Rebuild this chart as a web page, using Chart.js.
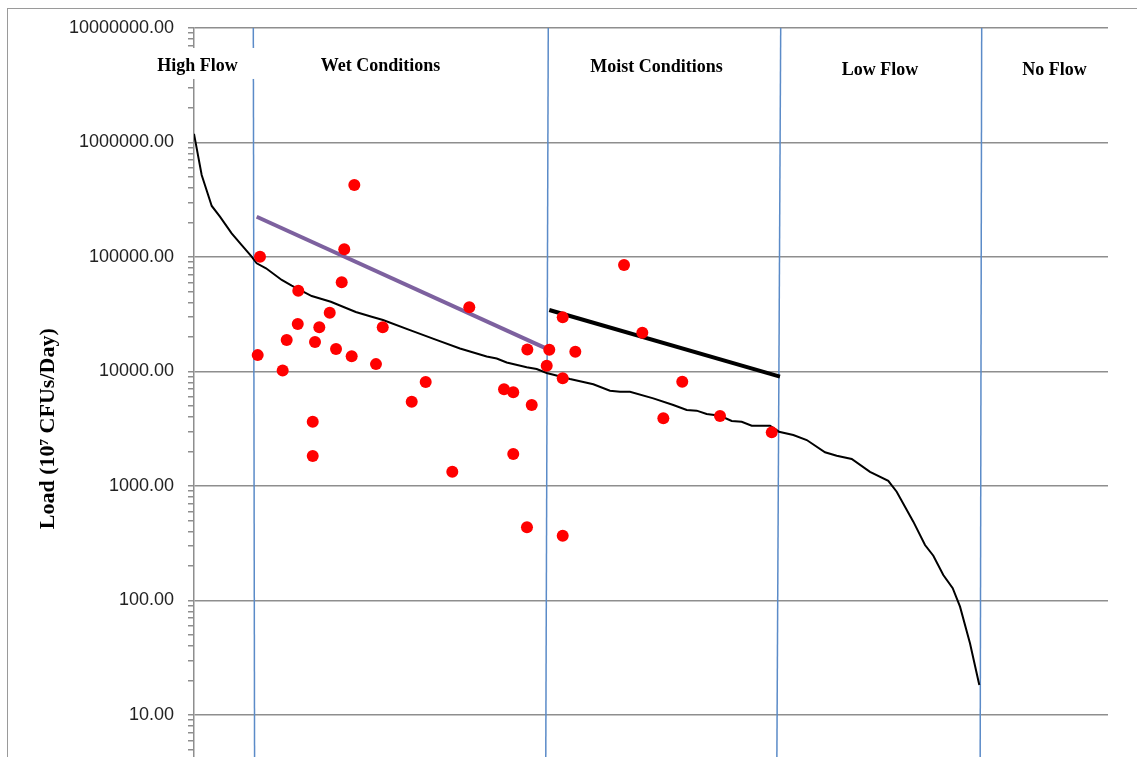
<!DOCTYPE html>
<html>
<head>
<meta charset="utf-8">
<script src="https://cdn.jsdelivr.net/npm/chart.js@4.4.1/dist/chart.umd.min.js"></script>
<style>
  html, body { margin: 0; padding: 0; background: #fff; overflow: hidden; }
  #frame { position: absolute; left: 7px; top: 8px; width: 1300px; height: 1000px;
           border-left: 1.5px solid #9a9a9a; border-top: 1.5px solid #9a9a9a; }
  #wrap { position: absolute; left: 0; top: 0; }
</style>
</head>
<body>
<div id="frame"></div>
<div id="wrap"><canvas id="c" width="1137" height="860"></canvas></div>
<script>
// Load duration curve: flow duration interval (%) and allowable load
const curvePct = [0, 0.84, 1.94, 2.84, 4.12, 5.22, 6.31, 6.86, 7.88, 9.60, 10.69, 12.88, 14.97, 17.70, 19.44, 20.68,
  23.63, 26.59, 29.10, 32.02, 33.12, 34.21, 36.40, 37.49, 38.59, 41.14, 43.69, 45.51, 46.61, 47.70, 50.25, 52.44,
  53.91, 55.00, 56.09, 57.55, 58.83, 59.92, 61.02, 63.02, 64.00, 65.57, 67.04, 69.04, 70.32, 71.96, 73.96, 75.96,
  76.88, 78.70, 79.98, 80.89, 81.98, 83.01, 83.81, 84.90, 85.92];
const curveLoad = [1190000, 520000, 279000, 225000, 161000, 127000, 100600, 88100, 79700, 63000, 56200, 45600, 40700,
  33100, 30100, 28200, 23000, 18800, 15900, 13500, 13000, 12000, 10900, 10500, 9700, 8600, 7730, 6800, 6660, 6660,
  5830, 5100, 4610, 4550, 4250, 4110, 3700, 3640, 3360, 3360, 2980, 2790, 2520, 1970, 1840, 1720, 1330, 1110, 892,
  488, 305, 246, 167, 128, 88.3, 42.3, 18.3];

// Observed loads from sampling events
const obsPct = [17.54, 16.44, 7.22, 16.16, 11.41, 14.85, 11.35, 13.71, 20.65, 10.14, 13.24, 6.97, 15.54, 17.25,
  19.91, 9.70, 25.35, 23.82, 12.99, 12.99, 30.12, 36.47, 38.87, 40.34, 41.72, 38.59, 40.34, 33.92, 34.93, 36.95,
  34.93, 28.26, 36.43, 40.34, 47.05, 49.05, 53.42, 51.35, 57.55, 63.21];
const obsLoad = [425600, 116800, 100600, 60100, 50800, 32600, 26000, 24300, 24300, 18800, 18100, 13900, 15700, 13600,
  11600, 10200, 8100, 5450, 3640, 1830, 36400, 15600, 15500, 29700, 14900, 11200, 8720, 6990, 6580, 5100,
  1900, 1330, 436, 368, 85100, 21800, 8150, 3900, 4090, 2940];

// Regression lines through the observed loads
const wetTrendPct = [6.86, 38.51];
const wetTrendLoad = [224900, 15940];
const moistTrendPct = [38.87, 64.11];
const moistTrendLoad = [34450, 9008];

// Flow zone boundaries (at the top and at the bottom of the axis)
const zoneTopPct = [6.49, 38.76, 64.19, 86.18];
const zoneBottomPct = [6.64, 38.46, 63.73, 86.0];
const zoneNames = ['High Flow', 'Wet Conditions', 'Moist Conditions', 'Low Flow', 'No Flow'];

// Decades of the load axis
const loadDecades = [1, 10, 100, 1000, 10000, 100000, 1000000, 10000000];

const pts = (xs, ys) => xs.map((x, i) => ({ x: x, y: ys[i] }));

const boundaryDatasets = zoneTopPct.map((t, i) => ({
  type: 'line',
  data: [{ x: t, y: loadDecades[loadDecades.length - 1] }, { x: zoneBottomPct[i], y: loadDecades[0] }],
  borderColor: '#5b8bc8',
  borderWidth: 1.5,
  pointRadius: 0,
  order: 4
}));

// Zone captions: centre (percent, load) and white box padding
const zoneLabelLayout = [
  { cx: 0.38, cy: 4.66e6, padL: 11, padR: 20 },
  { cx: 20.40, cy: 4.66e6, padL: 10, padR: 10 },
  { cx: 50.60, cy: 4.57e6, padL: 10, padR: 10 },
  { cx: 75.05, cy: 4.30e6, padL: 10, padR: 10 },
  { cx: 94.15, cy: 4.30e6, padL: 10, padR: 10 }
];

const zoneLabelPlugin = {
  id: 'zoneLabels',
  afterDraw(chart) {
    const { ctx, scales } = chart;
    ctx.save();
    ctx.font = 'bold 18px "Liberation Serif", "Times New Roman", serif';
    ctx.textAlign = 'center';
    ctx.textBaseline = 'middle';
    zoneNames.forEach((name, i) => {
      const L = zoneLabelLayout[i];
      const x = scales.x.getPixelForValue(L.cx);
      const y = scales.y.getPixelForValue(L.cy);
      const w = ctx.measureText(name).width;
      ctx.fillStyle = '#ffffff';
      ctx.fillRect(x - w / 2 - L.padL, y - 18, w + L.padL + L.padR, 31);
      ctx.fillStyle = '#000000';
      ctx.fillText(name, x, y);
    });
    ctx.restore();
  }
};

const isDecade = v => Math.abs(Math.log10(v) - Math.round(Math.log10(v))) < 1e-9;

new Chart(document.getElementById('c'), {
  type: 'line',
  data: {
    datasets: [
      {
        label: 'Observed',
        data: pts(obsPct, obsLoad),
        pointStyle: 'circle',
        pointRadius: 6,
        pointBackgroundColor: '#ff0000',
        pointBorderWidth: 0,
        pointBorderColor: '#ff0000',
        showLine: false,
        order: 0
      },
      {
        label: 'Wet trend',
        data: pts(wetTrendPct, wetTrendLoad),
        borderColor: '#7d619f',
        borderWidth: 4,
        pointRadius: 0,
        order: 1
      },
      {
        label: 'Moist trend',
        data: pts(moistTrendPct, moistTrendLoad),
        borderColor: '#000000',
        borderWidth: 4,
        pointRadius: 0,
        order: 1
      },
      {
        label: 'Load duration curve',
        data: pts(curvePct, curveLoad),
        borderColor: '#000000',
        borderWidth: 2,
        pointRadius: 0,
        tension: 0,
        order: 2
      },
      ...boundaryDatasets
    ]
  },
  options: {
    responsive: false,
    animation: false,
    layout: { padding: { left: 0, top: 28, right: 29, bottom: 30.5 } },
    plugins: { legend: { display: false }, tooltip: { enabled: false } },
    scales: {
      x: { type: 'linear', min: 0, max: 100, display: false },
      y: {
        type: 'logarithmic',
        min: loadDecades[0],
        max: loadDecades[loadDecades.length - 1],
        afterFit(scale) { scale.width = 194; },
        afterBuildTicks(scale) {
          const t = [];
          loadDecades.forEach((d, i) => {
            t.push({ value: d, major: true });
            if (i < loadDecades.length - 1) {
              for (let k = 2; k <= 9; k++) t.push({ value: d * k, major: false });
            }
          });
          scale.ticks = t;
        },
        ticks: {
          autoSkip: false,
          padding: 14,
          color: '#222',
          font: { family: '"Liberation Sans", Arial, sans-serif', size: 18 },
          callback: v => (isDecade(v) ? Number(v).toFixed(2) : '')
        },
        grid: {
          color: c => (c.tick && isDecade(c.tick.value) ? '#8e8e8e' : 'rgba(0,0,0,0)'),
          tickColor: '#8e8e8e',
          lineWidth: 1.5,
          tickLength: 6
        },
        border: { display: true, color: '#8e8e8e', width: 1.5 },
        title: {
          display: true,
          text: 'Load (10\u2077 CFUs/Day)',
          color: '#000',
          font: { family: '"Liberation Serif", "Times New Roman", serif', size: 22, weight: 'bold' },
          padding: { top: 35, bottom: 0 }
        }
      }
    }
  },
  plugins: [zoneLabelPlugin]
});
</script>
</body>
</html>
